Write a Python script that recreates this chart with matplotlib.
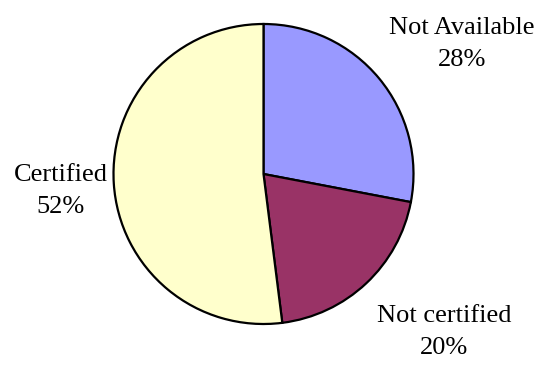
import matplotlib.pyplot as plt

# Datos del grafico
categorias = ['Not Available', 'Not certified', 'Certified']
porcentajes = [28, 20, 52]
colores = ['#9999FF', '#993366', '#FFFFCC']

# Posiciones de las etiquetas (pixeles, origen arriba a la izquierda)
pos_etiquetas = [(462, 44), (444, 332), (61, 191)]

W, H = 540, 367
fig = plt.figure(figsize=(W / 100, H / 100), dpi=100)
ax = fig.add_axes([0, 0, 1, 1])

# Pastel empezando arriba y en sentido horario
ax.pie(porcentajes, colors=colores, startangle=90, counterclock=False,
       center=(263.5, H - 174), radius=150, frame=True,
       wedgeprops=dict(edgecolor='black', linewidth=1.6))
ax.set_xlim(0, W)
ax.set_ylim(0, H)
ax.set_aspect('equal')
ax.axis('off')

for cat, pct, (x, y) in zip(categorias, porcentajes, pos_etiquetas):
    ax.text(x, H - y, f"{cat}\n{pct}%", ha='center', va='center',
            fontsize=19, family='Liberation Serif', linespacing=1.55)

fig.savefig('out.png', dpi=100)
